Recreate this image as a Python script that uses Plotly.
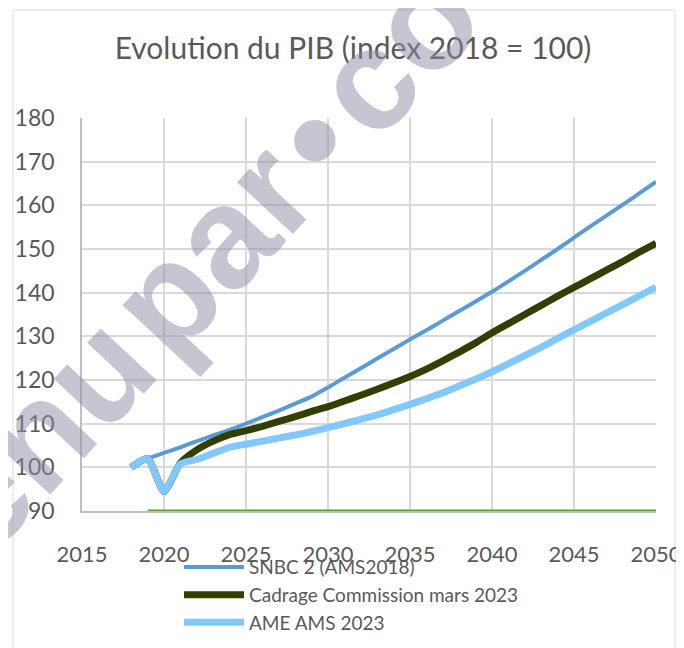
import plotly.graph_objects as go

years = list(range(2018, 2051))

snbc = [100.0, 102.0, 103.3, 104.6, 106.0, 107.3, 108.6, 110.0, 111.5, 113.0,
        114.6, 116.2, 118.3, 120.5, 122.7, 124.9, 127.1, 129.3, 131.4, 133.6,
        135.8, 138.0, 140.2, 142.6, 145.0, 147.5, 150.0, 152.6, 155.2, 157.7,
        160.2, 162.8, 165.4]

cadrage = [100.0, 102.0, 94.5, 101.0, 104.0, 106.0, 107.5, 108.4, 109.4, 110.5,
           111.6, 112.8, 113.9, 115.2, 116.5, 117.9, 119.3, 120.8, 122.5, 124.4,
           126.4, 128.5, 130.8, 132.9, 135.0, 137.1, 139.2, 141.2, 143.2, 145.2,
           147.2, 149.3, 151.3]

ame = [100.0, 102.0, 94.5, 100.8, 101.8, 103.2, 104.6, 105.3, 106.0, 106.7,
       107.4, 108.2, 109.1, 110.0, 111.0, 112.0, 113.2, 114.4, 115.7, 117.1,
       118.6, 120.2, 121.9, 123.7, 125.6, 127.5, 129.5, 131.5, 133.4, 135.4,
       137.3, 139.3, 141.2]

base_years = [2019, 2050]
base_values = [90, 90]

names = ["SNBC 2 (AMS2018)", "Cadrage Commission mars 2023", "AME AMS 2023"]
x_ticks = [2015, 2020, 2025, 2030, 2035, 2040, 2045, 2050]
y_ticks = [90, 100, 110, 120, 130, 140, 150, 160, 170, 180]

watermark = "enu\u200apar\u200a\u2022\u200aco"

# the page body adds an 8px offset, so the figure is 8px smaller
W, H = 676, 640

fig = go.Figure()
fig.add_trace(go.Scatter(x=base_years, y=base_values, mode="lines",
                         line=dict(color="#5c9e2e", width=3), showlegend=False,
                         hoverinfo="skip"))
fig.add_trace(go.Scatter(x=years[1:], y=snbc[1:], mode="lines", name=names[0],
                         line=dict(color="#5b9bd5", width=4, shape="spline", smoothing=0.6)))
fig.add_trace(go.Scatter(x=years, y=cadrage, mode="lines", name=names[1],
                         line=dict(color="#323f00", width=7, shape="spline", smoothing=0.6)))
fig.add_trace(go.Scatter(x=years, y=ame, mode="lines", name=names[2],
                         line=dict(color="#80c8ff", width=7, shape="spline", smoothing=0.6)))

fig.update_layout(
    width=W, height=H,
    margin=dict(l=74, r=28, t=110, b=137, autoexpand=False),
    paper_bgcolor="white", plot_bgcolor="white",
    font=dict(family="Lato, sans-serif", color="#595959"),
    title=dict(text="Evolution du PIB (index 2018 = 100)", x=345 / W, xanchor="center",
               y=1 - 40 / H, yanchor="middle", yref="container",
               font=dict(size=30, color="#595959", family="Lato, sans-serif")),
    xaxis=dict(range=[2015, 2050], tickvals=x_ticks, ticktext=[str(v) for v in x_ticks],
               showgrid=True, gridcolor="#d9d9d9", gridwidth=1.5,
               showline=True, linecolor="#bfbfbf", linewidth=1.5,
               zeroline=False, ticks="", ticklabelstandoff=23,
               tickfont=dict(size=22, color="#595959")),
    yaxis=dict(range=[90, 180], tickvals=y_ticks, ticktext=[str(v) for v in y_ticks],
               showgrid=True, gridcolor="#d9d9d9", gridwidth=1.5,
               showline=True, linecolor="#bfbfbf", linewidth=1.5,
               zeroline=False, ticks="", ticklabelstandoff=21,
               tickfont=dict(size=23, color="#595959")),
    legend=dict(x=0.169, xanchor="left", y=-0.0944, yanchor="top",
                font=dict(size=19, color="#595959"), bgcolor="rgba(0,0,0,0)",
                itemwidth=60, tracegroupgap=0),
    shapes=[dict(type="rect", xref="paper", yref="paper",
                 x0=(13 - 82) / 574, x1=(675 - 82) / 574,
                 y0=(511 - 700) / 393, y1=(511 - 10) / 393,
                 line=dict(color="#d9d9d9", width=1), fillcolor="rgba(0,0,0,0)",
                 layer="below")],
    annotations=[dict(text="<b>" + watermark + "</b>", xref="paper", yref="paper",
                      x=0.2108, y=0.6463, showarrow=False,
                      textangle=-47, xanchor="center", yanchor="middle",
                      font=dict(size=144, family="Liberation Sans, Arial, sans-serif",
                                color="rgba(141,140,165,0.5)"))],
)

fig.write_html("out.html")
